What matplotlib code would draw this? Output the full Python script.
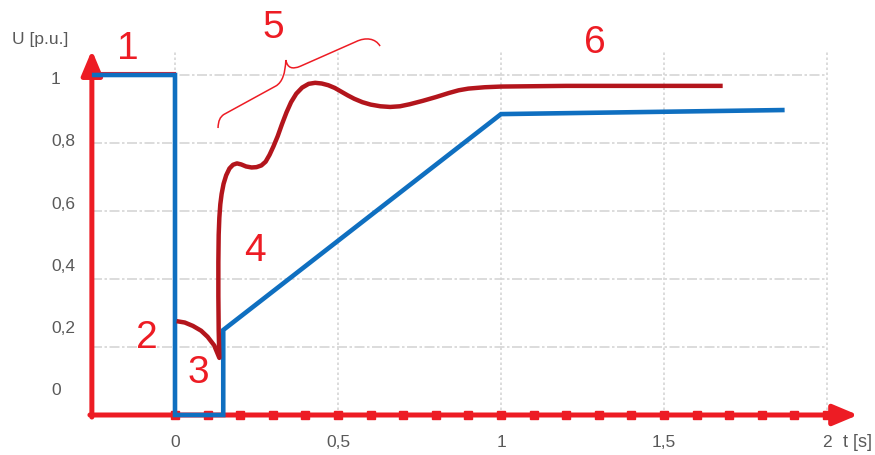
import matplotlib
matplotlib.use("Agg")
import matplotlib.pyplot as plt
from matplotlib.path import Path
from matplotlib.patches import PathPatch

# ---------------- data ----------------
# blue curve (t [s], U [p.u.])
blue_t = [-0.255, 0.0, 0.0, 0.148, 0.148, 1.0, 1.87]
blue_u = [1.0, 1.0, 0.0, 0.0, 0.25, 0.885, 0.897]

# dark red curve (t [s], U [p.u.])
red_t = [0.005, 0.03, 0.055, 0.08, 0.10, 0.12, 0.136,
         0.134, 0.133, 0.133, 0.134, 0.136, 0.139, 0.143, 0.149, 0.157,
         0.167, 0.178, 0.19, 0.203, 0.218, 0.235, 0.25, 0.265, 0.278,
         0.29, 0.302, 0.315, 0.328, 0.342, 0.356, 0.372, 0.39, 0.41,
         0.43, 0.45, 0.47, 0.49, 0.51, 0.53, 0.55, 0.575, 0.60, 0.63,
         0.66, 0.69, 0.72, 0.76, 0.80, 0.84, 0.87, 0.90, 0.95, 1.0,
         1.2, 1.68]
red_u = [0.276, 0.272, 0.262, 0.248, 0.230, 0.205, 0.168,
         0.25, 0.35, 0.45, 0.53, 0.58, 0.62, 0.65, 0.68, 0.705,
         0.725, 0.736, 0.74, 0.737, 0.731, 0.728, 0.729, 0.734, 0.745,
         0.765, 0.79, 0.82, 0.855, 0.89, 0.92, 0.945, 0.963, 0.974,
         0.977, 0.975, 0.97, 0.962, 0.951, 0.94, 0.93, 0.92, 0.913, 0.908,
         0.906, 0.908, 0.914, 0.924, 0.935, 0.947, 0.955, 0.96, 0.964, 0.966,
         0.968, 0.968]

x_ticks = [0, 0.5, 1, 1.5, 2]
x_tick_labels = ["0", "0,5", "1", "1,5", "2"]
y_ticks = [0, 0.2, 0.4, 0.6, 0.8, 1.0]
y_tick_labels = ["0", "0,2", "0,4", "0,6", "0,8", "1"]
axis_marks = [round(0.1 * i, 1) for i in range(21)]

annotations = ["1", "2", "3", "4", "5", "6"]

# ---------------- style ----------------
RED = "#ed1c24"
DARKRED = "#b3151c"
BLUE = "#0f6fc0"
GRID = "#d6d6d6"
TXT = "#595959"
FONT = "Liberation Sans"

fig = plt.figure(figsize=(8.75, 4.55), dpi=100)
ax = fig.add_axes([0, 0, 1, 1])
ax.set_xlim(-175 / 326, 700 / 326)
ax.set_ylim(-40 / 340, 415 / 340)
ax.axis("off")

t_axis = -0.255
t_end = 2.0
grid_top = 1.074

# grid
for v in y_ticks[1:]:
    ax.plot([t_axis, t_end], [v, v], color=GRID, lw=1.2,
            dashes=(6, 1.5, 1.5, 1.5), zorder=1)
for v in x_ticks:
    ax.plot([v, v], [0, grid_top], color=GRID, lw=1.2, ls=(0, (1.5, 1.5)), zorder=1)

# axes with arrows
ax.annotate("", xy=(t_axis, 1.073), xytext=(t_axis, -0.006),
            arrowprops=dict(arrowstyle="-|>,head_length=1.0,head_width=0.42",
                            color=RED, lw=3.6, shrinkA=0, shrinkB=0,
                            mutation_scale=15), zorder=3)
ax.annotate("", xy=(2.095, 0), xytext=(t_axis - 0.006, 0),
            arrowprops=dict(arrowstyle="-|>,head_length=1.0,head_width=0.42",
                            color=RED, lw=3.6, shrinkA=0, shrinkB=0,
                            mutation_scale=15), zorder=3)
ax.plot(axis_marks, [0] * len(axis_marks), ls="none", marker="s",
        ms=5.5, color=RED, zorder=3)

# curves
ax.plot([t_axis, 0.0], [1.005, 1.005], color=RED, lw=1.5, zorder=4)
ax.plot(blue_t, blue_u, color=BLUE, lw=3.3, zorder=5,
        solid_joinstyle="miter", solid_capstyle="butt")
ax.plot(red_t, red_u, color=DARKRED, lw=3.2, zorder=6,
        solid_joinstyle="round", solid_capstyle="butt")

# tick labels
for v, lab in zip(x_ticks, x_tick_labels):
    ax.text(v, -0.094, lab, ha="center", va="baseline", color=TXT,
            fontsize=12.5, family=FONT)
for v, lab in zip(y_ticks, y_tick_labels):
    ax.text(-0.380, 0.058 + 0.915 * v, lab, ha="left", va="baseline",
            color=TXT, fontsize=12.5, family=FONT)
ax.text(-0.500, 1.09, "U [p.u.]", ha="left", va="baseline", color=TXT,
        fontsize=12.5, family=FONT)
ax.text(2.05, -0.094, "t [s]", ha="left", va="baseline", color=TXT,
        fontsize=13, family=FONT)

# numbered annotations
ann_pos = [(-0.144, 1.047), (-0.086, 0.197), (0.071, 0.094),
           (0.245, 0.453), (0.300, 1.109), (1.288, 1.065)]
for lab, (x, y) in zip(annotations, ann_pos):
    ax.text(x, y, lab, ha="center", va="baseline", color=RED,
            fontsize=28, family=FONT, zorder=7)

# curly brace for "5"
verts = [(0.132, 0.844),
         (0.133, 0.866), (0.138, 0.876), (0.150, 0.884),
         (0.310, 0.968),
         (0.330, 0.980), (0.338, 1.005), (0.340, 1.044),
         (0.345, 1.020), (0.360, 1.016), (0.385, 1.026),
         (0.555, 1.098),
         (0.585, 1.112), (0.615, 1.108), (0.629, 1.085)]
codes = [Path.MOVETO,
         Path.CURVE4, Path.CURVE4, Path.CURVE4,
         Path.LINETO,
         Path.CURVE4, Path.CURVE4, Path.CURVE4,
         Path.CURVE4, Path.CURVE4, Path.CURVE4,
         Path.LINETO,
         Path.CURVE4, Path.CURVE4, Path.CURVE4]
ax.add_patch(PathPatch(Path(verts, codes), fill=False, edgecolor=RED,
                       lw=1.1, zorder=7))

fig.savefig("out.png", dpi=100)
